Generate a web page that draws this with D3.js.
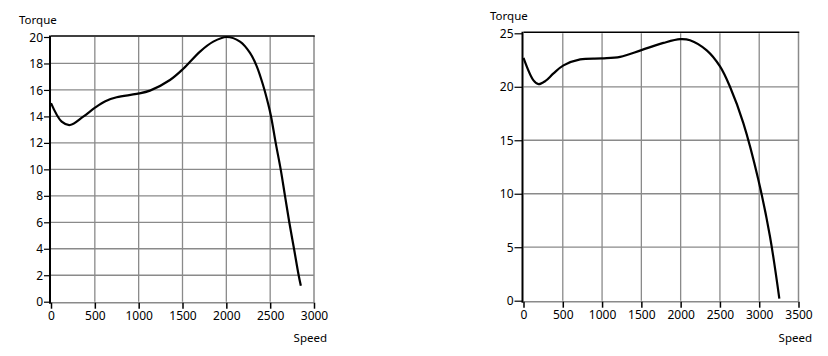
<!DOCTYPE html>
<html>
<head>
<meta charset="utf-8">
<script src="https://cdn.jsdelivr.net/npm/d3@7"></script>
<style>
  body { margin: 0; background: #fff; }
  svg { display: block; }
  text { font-family: "Noto Sans", "Liberation Sans", sans-serif; fill: #000; }
</style>
</head>
<body>
<svg id="chart" width="828" height="356"></svg>
<script>
// ---- Data ----
const leftSpeed  = [0, 122, 217, 368, 502, 620, 749, 977, 1129, 1357, 1509, 1700, 1851, 2004, 2156, 2270, 2346, 2422, 2479, 2510, 2563, 2620, 2669, 2718, 2772, 2825, 2850];
const leftTorque = [15.0, 13.6, 13.35, 13.98, 14.66, 15.15, 15.45, 15.7, 15.95, 16.75, 17.6, 18.9, 19.65, 20.0, 19.65, 18.8, 17.8, 16.3, 14.9, 14.0, 12.0, 10.0, 8.0, 6.0, 4.0, 2.0, 1.2];
const leftXTicks = [0, 500, 1000, 1500, 2000, 2500, 3000];
const leftYTicks = [0, 2, 4, 6, 8, 10, 12, 14, 16, 18, 20];

const rightSpeed  = [0, 127, 191, 280, 382, 509, 721, 998, 1230, 1501, 1781, 1994, 2119, 2332, 2501, 2628, 2798, 2989, 3137, 3256];
const rightTorque = [22.7, 20.6, 20.25, 20.55, 21.25, 22.0, 22.56, 22.65, 22.8, 23.43, 24.1, 24.45, 24.35, 23.4, 21.9, 20.0, 16.6, 11.3, 6.0, 0.2];
const rightXTicks = [0, 500, 1000, 1500, 2000, 2500, 3000, 3500];
const rightYTicks = [0, 5, 10, 15, 20, 25];

const yTitle = "Torque";
const xTitle = "Speed";

const svg = d3.select("#chart");

function drawChart(cfg) {
  const x = d3.scaleLinear().domain(cfg.xDomain).range([cfg.left, cfg.right]);
  const y = d3.scaleLinear().domain(cfg.yDomain).range([cfg.bottom, cfg.top]);
  const g = svg.append("g");

  // grid
  g.append("g").selectAll("line").data(cfg.xTicks.filter(d => d !== cfg.xDomain[0] && d !== cfg.xDomain[1]))
    .join("line")
    .attr("x1", d => x(d)).attr("x2", d => x(d))
    .attr("y1", y(cfg.yDomain[1])).attr("y2", y(cfg.yDomain[0]))
    .attr("stroke", "#8a8a8a").attr("stroke-width", 1.3);
  g.append("g").selectAll("line").data(cfg.yTicks.filter(d => d !== cfg.yDomain[0] && d !== cfg.yDomain[1]))
    .join("line")
    .attr("x1", x(cfg.xDomain[0])).attr("x2", x(cfg.xDomain[1]))
    .attr("y1", d => y(d)).attr("y2", d => y(d))
    .attr("stroke", "#8a8a8a").attr("stroke-width", 1.3);

  // frame: right & bottom grey, top & left black
  g.append("line").attr("x1", x(cfg.xDomain[1])).attr("x2", x(cfg.xDomain[1]))
    .attr("y1", y(cfg.yDomain[1]) - 1).attr("y2", y(cfg.yDomain[0]) + 1)
    .attr("stroke", "#8a8a8a").attr("stroke-width", 1.5);
  g.append("line").attr("x1", x(cfg.xDomain[0])).attr("x2", x(cfg.xDomain[1]))
    .attr("y1", y(cfg.yDomain[0]) + 1).attr("y2", y(cfg.yDomain[0]) + 1)
    .attr("stroke", "#8a8a8a").attr("stroke-width", 1.5);
  g.append("line").attr("x1", x(cfg.xDomain[0])).attr("x2", x(cfg.xDomain[1]) + 0.75)
    .attr("y1", y(cfg.yDomain[1]) - 1).attr("y2", y(cfg.yDomain[1]) - 1)
    .attr("stroke", "#000").attr("stroke-width", 1.5);

  // y axis
  const yAxis = d3.axisLeft(y).tickValues(cfg.yTicks).tickSize(cfg.yTickLen).tickPadding(1).tickFormat(d3.format("d"));
  const ya = g.append("g").attr("transform", `translate(${x(cfg.xDomain[0]) - 1},0)`).call(yAxis);
  ya.select(".domain").attr("d", `M0,${y(cfg.yDomain[1]) - 1.5}V${y(cfg.yDomain[0]) + 2}`)
    .attr("stroke", "#000").attr("stroke-width", 2);
  ya.selectAll(".tick line").attr("stroke", "#000").attr("stroke-width", 1.2);
  ya.selectAll(".tick text").style("font-size", "12px").attr("dy", "0.34em");

  // x axis
  const xAxis = d3.axisBottom(x).tickValues(cfg.xTicks).tickSize(6).tickPadding(3).tickFormat(d3.format("d"));
  const xa = g.append("g").attr("transform", `translate(0,${y(cfg.yDomain[0]) + 1})`).call(xAxis);
  xa.select(".domain").remove();
  xa.selectAll(".tick line").attr("stroke", "#000").attr("stroke-width", 1.5);
  xa.selectAll(".tick text").style("font-size", "12px");

  // titles
  g.append("text").attr("x", cfg.yTitleX).attr("y", cfg.yTitleY).style("font-size", "11.5px").text(yTitle);
  g.append("text").attr("x", cfg.xTitleX).attr("y", cfg.xTitleY).attr("text-anchor", "end").style("font-size", "11.5px").text(xTitle);

  // curve
  const data = cfg.speed.map((s, i) => [s, cfg.torque[i]]);
  g.append("path").datum(data)
    .attr("fill", "none").attr("stroke", "#000").attr("stroke-width", 2.2)
    .attr("stroke-linejoin", "round")
    .attr("d", d3.line().x(d => x(d[0])).y(d => y(d[1])).curve(d3.curveCatmullRom.alpha(0.5)));
}

drawChart({
  speed: leftSpeed, torque: leftTorque,
  xDomain: [0, 3000], yDomain: [0, 20],
  xTicks: leftXTicks, yTicks: leftYTicks,
  left: 51, right: 314, top: 37, bottom: 301.7,
  yTickLen: 6,
  yTitleX: 19, yTitleY: 24,
  xTitleX: 327, xTitleY: 342
});

drawChart({
  speed: rightSpeed, torque: rightTorque,
  xDomain: [0, 3500], yDomain: [0, 25],
  xTicks: rightXTicks, yTicks: rightYTicks,
  left: 523.5, right: 798.5, top: 33.3, bottom: 300.7,
  yTickLen: 8,
  yTitleX: 490, yTitleY: 20,
  xTitleX: 812, xTitleY: 342
});
</script>
</body>
</html>
